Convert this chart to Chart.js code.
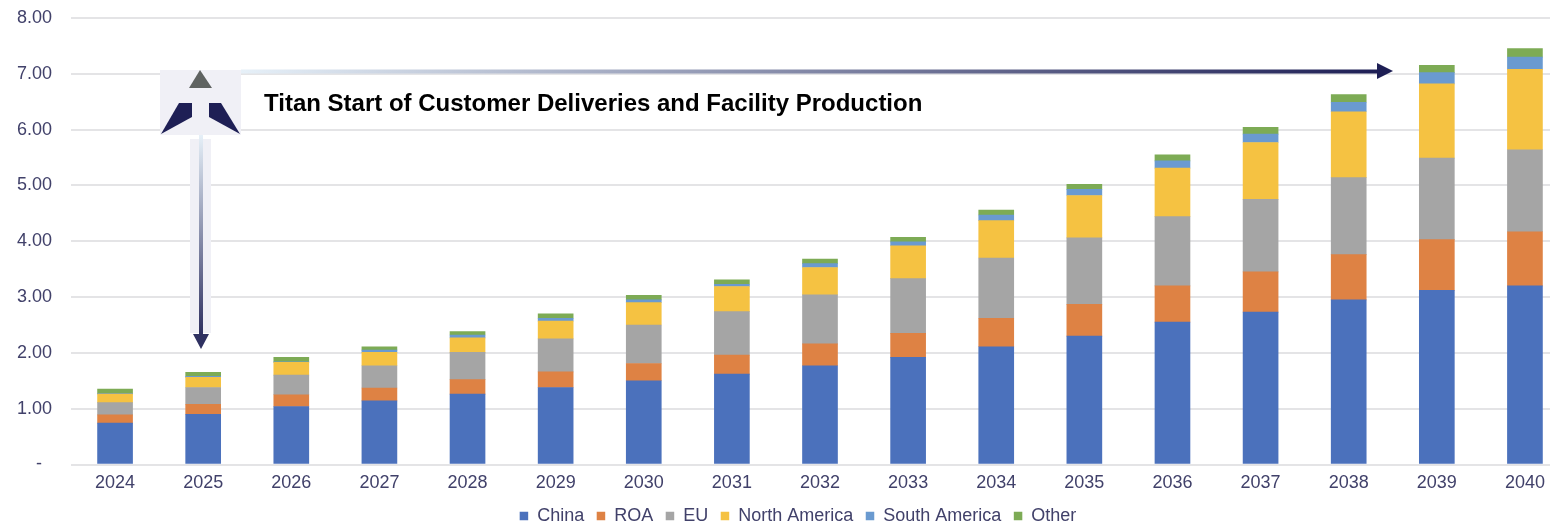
<!DOCTYPE html>
<html>
<head>
<meta charset="utf-8">
<title>Titan deliveries</title>
<script src="https://cdn.jsdelivr.net/npm/chart.js@4/dist/chart.umd.min.js"></script>
<style>
    html, body { margin: 0; padding: 0; background: #fff; overflow: hidden; }
    #wrap { width: 1550px; height: 526px; overflow: hidden; }
    canvas { display: block; }
</style>
</head>
<body>
<div id="wrap"><canvas id="chart" width="1594" height="536"></canvas></div>
<script>
const years = ['2024', '2025', '2026', '2027', '2028', '2029', '2030', '2031', '2032', '2033', '2034', '2035', '2036', '2037', '2038', '2039', '2040'];
const china = [0.74, 0.90, 1.04, 1.14, 1.26, 1.38, 1.50, 1.62, 1.77, 1.92, 2.11, 2.30, 2.55, 2.73, 2.95, 3.12, 3.20];
const roa = [0.15, 0.18, 0.21, 0.23, 0.26, 0.28, 0.31, 0.34, 0.39, 0.43, 0.51, 0.57, 0.65, 0.72, 0.81, 0.91, 0.97];
const eu = [0.22, 0.30, 0.35, 0.40, 0.49, 0.59, 0.69, 0.78, 0.88, 0.98, 1.08, 1.19, 1.24, 1.30, 1.38, 1.46, 1.47];
const northAmerica = [0.15, 0.18, 0.23, 0.24, 0.26, 0.32, 0.40, 0.45, 0.49, 0.59, 0.67, 0.76, 0.87, 1.02, 1.18, 1.33, 1.44];
const southAmerica = [0.01, 0.02, 0.01, 0.04, 0.05, 0.05, 0.05, 0.04, 0.07, 0.07, 0.10, 0.11, 0.13, 0.15, 0.17, 0.20, 0.22];
const other = [0.08, 0.07, 0.08, 0.06, 0.06, 0.08, 0.08, 0.08, 0.08, 0.08, 0.09, 0.09, 0.11, 0.12, 0.14, 0.13, 0.15];

const calloutText = 'Titan Start of Customer Deliveries and Facility Production';
const textColor = '#41416a';
const navy = '#1e1f55';
const pale = '#f0f0f6';
const font = '"Liberation Sans", Arial, sans-serif';

function polygon(ctx, points, color) {
    ctx.fillStyle = color;
    ctx.beginPath();
    points.forEach((p, i) => (i ? ctx.lineTo(p[0], p[1]) : ctx.moveTo(p[0], p[1])));
    ctx.closePath();
    ctx.fill();
}

// logo, the two gradient arrows and the caption sit on top of the chart
const calloutPlugin = {
    id: 'callout',
    afterLayout(chart) {
        // the plot runs past the right edge of the page, so centre the legend by hand
        const legend = chart.legend;
        legend.left += 13.5;
        legend.right += 13.5;
        legend.top -= 1;
        legend.bottom -= 1;
    },
    afterDatasetsDraw(chart) {
        const ctx = chart.ctx;
        ctx.save();

        // logo
        ctx.fillStyle = pale;
        ctx.fillRect(160, 70, 81, 65);
        polygon(ctx, [[200, 70], [212, 88], [189, 88]], '#5f6361');
        polygon(ctx, [[179, 103], [192, 103], [192, 117], [161, 134]], navy);
        polygon(ctx, [[209, 103], [221, 103], [240, 134], [209, 117]], navy);

        // vertical arrow
        ctx.fillStyle = pale;
        ctx.fillRect(190, 139, 21, 194);
        let grad = ctx.createLinearGradient(0, 135, 0, 334);
        grad.addColorStop(0, '#e6f0f8');
        grad.addColorStop(1, '#2f3161');
        ctx.fillStyle = grad;
        ctx.fillRect(199, 135, 4, 199);
        polygon(ctx, [[193, 334], [209, 334], [201, 349]], '#2f3161');

        // horizontal arrow
        grad = ctx.createLinearGradient(241, 0, 1377, 0);
        grad.addColorStop(0, '#e6f0f8');
        grad.addColorStop(1, navy);
        ctx.fillStyle = grad;
        ctx.fillRect(241, 69.5, 1136, 4);
        polygon(ctx, [[1377, 63], [1393, 71], [1377, 79]], navy);

        ctx.fillStyle = '#000';
        ctx.font = 'bold 24px ' + font;
        ctx.textAlign = 'left';
        ctx.textBaseline = 'middle';
        ctx.fillText(calloutText, 264, 104);
        ctx.restore();
    }
};

const makeSeries = (label, data, color) => ({
    label: label,
    data: data,
    backgroundColor: color,
    barThickness: 35,
    stack: 'total'
});

new Chart(document.getElementById('chart'), {
    type: 'bar',
    data: {
        labels: years,
        datasets: [
            makeSeries('China', china, '#4b71bc'),
            makeSeries('ROA', roa, '#de8244'),
            makeSeries('EU', eu, '#a5a5a5'),
            makeSeries('North America', northAmerica, '#f5c242'),
            makeSeries('South America', southAmerica, '#6a9ad0'),
            makeSeries('Other', other, '#7dab55')
        ]
    },
    options: {
        responsive: false,
        animation: false,
        layout: { padding: { top: 18, right: 25 } },
        plugins: {
            tooltip: { enabled: false },
            legend: {
                position: 'bottom',
                labels: {
                    boxWidth: 8.5,
                    boxHeight: 8.5,
                    padding: 12.5,
                    color: textColor,
                    font: { family: font, size: 18 }
                }
            }
        },
        scales: {
            x: {
                stacked: true,
                afterFit: (scale) => { scale.height = 31; },
                grid: { display: false, drawTicks: false },
                border: { display: false },
                ticks: { color: textColor, padding: 8, maxRotation: 0, autoSkip: false, font: { family: font, size: 18 } }
            },
            y: {
                stacked: true,
                min: 0,
                max: 8,
                afterFit: (scale) => {
                    scale.width = 71;
                    scale.paddingTop = 0; // tick padding would otherwise push the plot down
                },
                grid: { color: '#e4e4e6', lineWidth: 2, drawTicks: false },
                border: { display: false },
                ticks: {
                    stepSize: 1,
                    color: textColor,
                    padding: 19,
                    font: { family: font, size: 18 },
                    callback: (value) => (value === 0 ? '-  ' : value.toFixed(2))
                }
            }
        }
    },
    plugins: [calloutPlugin]
});
</script>
</body>
</html>
